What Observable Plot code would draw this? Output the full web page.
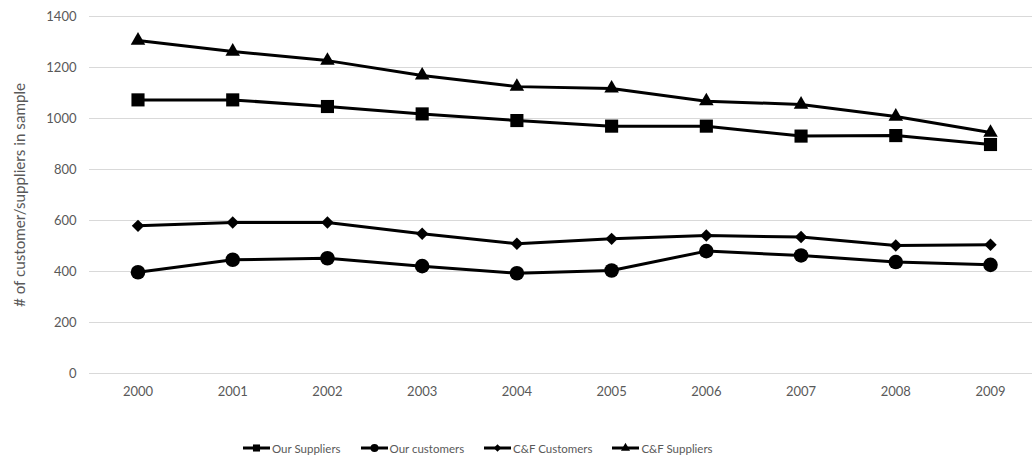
<!DOCTYPE html>
<html>
<head>
<meta charset="utf-8">
<script src="https://cdn.jsdelivr.net/npm/d3@7"></script>
<script src="https://cdn.jsdelivr.net/npm/@observablehq/plot@0.6"></script>
<style>
  html, body { margin: 0; padding: 0; background: #fff; }
  #chart { width: 1032px; }
  #legend { display: flex; justify-content: flex-start; align-items: center; gap: 20px; height: 20px; margin-top: 18px; padding-left: 243px;
    font-family: Lato, "Open Sans", sans-serif; font-size: 11.5px; color: #595959; }
  .item { display: flex; align-items: center; gap: 2px; }
</style>
</head>
<body>
<div id="chart"></div>
<div id="legend"></div>
<script>
const years = [2000, 2001, 2002, 2003, 2004, 2005, 2006, 2007, 2008, 2009];
const seriesNames = ["Our Suppliers", "Our customers", "C&F Customers", "C&F Suppliers"];
const ourSuppliers = [1073, 1073, 1047, 1018, 992, 970, 970, 931, 933, 898];
const ourCustomers = [397, 446, 452, 421, 393, 404, 480, 463, 437, 426];
const cfCustomers = [579, 592, 592, 548, 509, 528, 541, 535, 502, 505];
const cfSuppliers = [1306, 1263, 1227, 1169, 1125, 1118, 1068, 1055, 1008, 945];
const yTicks = [0, 200, 400, 600, 800, 1000, 1200, 1400];
const yLabel = "# of customer/suppliers in sample";

const seriesValues = [ourSuppliers, ourCustomers, cfCustomers, cfSuppliers];
const symbols = ["square", "circle", "diamond2", "triangle"];
const radii = [7.4, 7.3, 5.6, 5.4];

const data = seriesNames.map((name, s) => years.map((year, i) => ({series: name, year, value: seriesValues[s][i]})));

const marks = [
  Plot.gridY(yTicks, {stroke: "#d9d9d9", strokeOpacity: 1, strokeWidth: 1}),
  Plot.axisY(yTicks, {tickSize: 0, tickPadding: 13, tickFormat: d => String(d), label: null, fontSize: 13}),
  Plot.text([yLabel], {frameAnchor: "left", dx: -69, rotate: -90, fontSize: 15.2, fill: "#595959", textAnchor: "middle"}),
  Plot.axisX(years, {tickSize: 0, tickPadding: 13, tickFormat: d => String(d), label: null, fontSize: 13})
];
data.forEach((rows, s) => {
  marks.push(Plot.line(rows, {x: "year", y: "value", stroke: "black", strokeWidth: 3, strokeLinejoin: "round"}));
  marks.push(Plot.dot(rows, {x: "year", y: "value", symbol: () => symbols[s], fill: "black", stroke: "none", r: radii[s]}));
});

const chart = Plot.plot({
  width: 1032,
  height: 420,
  marginLeft: 89,
  marginRight: 0,
  marginTop: 16,
  marginBottom: 47,
  style: {fontFamily: "Lato, 'Open Sans', sans-serif", fontSize: "13px", color: "#595959", background: "#fff"},
  x: {type: "point", domain: years, range: [137.5, 990], padding: 0, align: 0.5, round: false},
  y: {domain: [0, 1400], range: [373, 16]},
  symbol: {type: "identity"},
  marks
});
document.getElementById("chart").appendChild(chart);

// Legend
const legend = d3.select("#legend");
const legendSymbols = [d3.symbolSquare, d3.symbolCircle, d3.symbolDiamond2, d3.symbolTriangle];
const legendSizes = [50, 50, 36, 36];
seriesNames.forEach((name, s) => {
  const item = legend.append("div").attr("class", "item");
  const svg = item.append("svg").attr("width", 27).attr("height", 12);
  svg.append("line").attr("x1", 0).attr("x2", 27).attr("y1", 6).attr("y2", 6).attr("stroke", "black").attr("stroke-width", 3);
  svg.append("path").attr("transform", "translate(13.5,6)").attr("d", d3.symbol(legendSymbols[s], legendSizes[s])()).attr("fill", "black");
  item.append("span").text(name);
});
</script>
</body>
</html>
